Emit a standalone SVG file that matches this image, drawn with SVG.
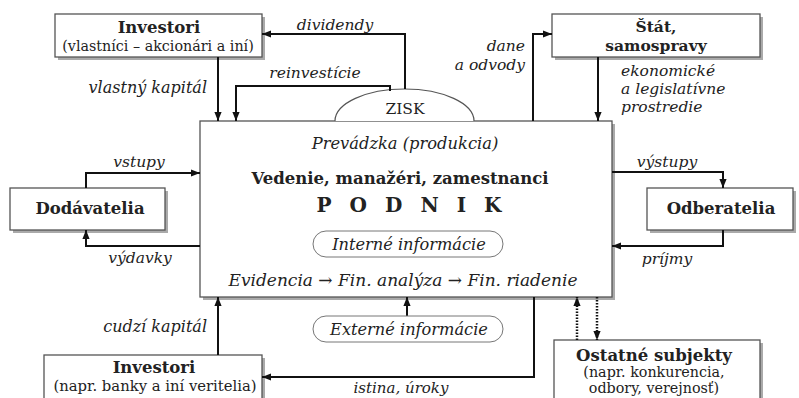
<svg xmlns="http://www.w3.org/2000/svg" width="799" height="398" viewBox="0 0 799 398">
<defs>
<marker id="ah" viewBox="0 0 10 10" refX="10" refY="5" markerWidth="9" markerHeight="9" markerUnits="userSpaceOnUse" orient="auto"><path d="M0,1 L10,5 L0,9 z" fill="#111"/></marker>
<style>
.box{fill:#fff;stroke:#555;stroke-width:1.3}
.sh{fill:#aaa}
.t{font-family:"DejaVu Serif","Liberation Serif",serif;fill:#222}
.b{font-weight:bold}
.i{font-style:italic}
.c{text-anchor:middle}
.r{text-anchor:end}
.ln{fill:none;stroke:#111;stroke-width:2}
.dt{fill:none;stroke:#111;stroke-width:2.5;stroke-dasharray:1.5,1.5}
.pill{fill:#fff;stroke:#777;stroke-width:1}
.lb{font-size:15.5px}
.ti{font-size:16.5px}
.su{font-size:14.3px}
</style>
</defs>
<rect width="799" height="398" fill="#fff"/>

<g id="podnik">
<rect class="sh" x="203" y="124" width="412" height="176"/>
<rect class="box" x="200" y="121" width="412" height="176"/>
<text class="t i c" x="405" y="149" font-size="16.3">Prevádzka (produkcia)</text>
<text class="t b c" x="400" y="184" font-size="16.5">Vedenie, manažéri, zamestnanci</text>
<text class="t b c" x="418" y="212" font-size="20" letter-spacing="18">PODNIK</text>
<rect class="pill" x="313" y="231" width="190" height="26" rx="13"/>
<text class="t i c" x="409" y="250" font-size="16.2">Interné informácie</text>
<text class="t i c" x="403" y="286" font-size="17">Evidencia → Fin. analýza → Fin. riadenie</text>
</g>

<g id="zisk">
<path d="M335,121 A69.5,32 0 0 1 474,121" fill="#fff" stroke="#555" stroke-width="1.2"/>
<text class="t c" x="405" y="114" font-size="15.5">ZISK</text>
</g>

<g id="investori-vlastnici">
<rect class="sh" x="58" y="17" width="207" height="43"/>
<rect class="box" x="55" y="14" width="207" height="43"/>
<text class="t b c ti" x="159" y="33">Investori</text>
<text class="t c su" x="158" y="51">(vlastníci – akcionári a iní)</text>
</g>

<g id="stat">
<rect class="sh" x="555" y="17" width="208" height="43"/>
<rect class="box" x="552" y="14" width="208" height="43"/>
<text class="t b c" x="656" y="32" font-size="15.5">Štát,</text>
<text class="t b c" x="656" y="51" font-size="15.5">samospravy</text>
</g>

<g id="dodavatelia">
<rect class="sh" x="13" y="191" width="155" height="42"/>
<rect class="box" x="10" y="188" width="155" height="42"/>
<text class="t b c ti" x="90" y="214">Dodávatelia</text>
</g>

<g id="odberatelia">
<rect class="sh" x="650" y="191" width="146" height="42"/>
<rect class="box" x="647" y="188" width="146" height="42"/>
<text class="t b c ti" x="721" y="214">Odberatelia</text>
</g>

<g id="investori-veritelia">
<rect class="sh" x="47" y="358" width="218" height="50"/>
<rect class="box" x="44" y="355" width="218" height="50"/>
<text class="t b c ti" x="154" y="373">Investori</text>
<text class="t c" x="155" y="391" font-size="14.8">(napr. banky a iní veritelia)</text>
</g>

<g id="ostatne">
<rect class="sh" x="557" y="343" width="206" height="60"/>
<rect class="box" x="554" y="340" width="206" height="60"/>
<text class="t b c ti" x="654" y="361">Ostatné subjekty</text>
<text class="t c su" x="654" y="377">(napr. konkurencia,</text>
<text class="t c su" x="654" y="393">odbory, verejnosť)</text>
</g>

<g id="connectors">
<path class="ln" d="M405,89 V34 H262" marker-end="url(#ah)"/>
<path class="ln" d="M390,91 V86 H236 V121" marker-end="url(#ah)"/>
<path class="ln" d="M218,57 V121" marker-end="url(#ah)"/>
<path class="ln" d="M533,121 V34 H552" marker-end="url(#ah)"/>
<path class="ln" d="M598,57 V121" marker-end="url(#ah)"/>
<path class="ln" d="M86,188 V173 H200" marker-end="url(#ah)"/>
<path class="ln" d="M200,246 H86 V230" marker-end="url(#ah)"/>
<path class="ln" d="M612,172 H723 V188" marker-end="url(#ah)"/>
<path class="ln" d="M723,230 V246 H612" marker-end="url(#ah)"/>
<path class="ln" d="M218,355 V297" marker-end="url(#ah)"/>
<path class="ln" d="M407,316 V297" marker-end="url(#ah)"/>
<path class="ln" d="M534,297 V377 H262" marker-end="url(#ah)"/>
<path class="dt" d="M577,340 V297" marker-end="url(#ah)"/>
<path class="dt" d="M597,297 V340" marker-end="url(#ah)"/>
<rect class="pill" x="313" y="316" width="190" height="26" rx="13"/>
<text class="t i c" x="409" y="335" font-size="16.2">Externé informácie</text>
<text class="t i c lb" x="335" y="30">dividendy</text>
<text class="t i c lb" x="315" y="78">reinvestície</text>
<text class="t i r" x="207" y="93" font-size="16">vlastný kapitál</text>
<text class="t i r lb" x="525" y="51">dane</text>
<text class="t i r lb" x="525" y="70">a odvody</text>
<text class="t i lb" x="621" y="76">ekonomické</text>
<text class="t i lb" x="621" y="94">a legislatívne</text>
<text class="t i lb" x="621" y="112">prostredie</text>
<text class="t i c lb" x="139" y="167">vstupy</text>
<text class="t i c lb" x="140" y="263">výdavky</text>
<text class="t i c lb" x="667" y="167">výstupy</text>
<text class="t i c lb" x="667" y="264">príjmy</text>
<text class="t i r" x="207" y="332" font-size="16">cudzí kapitál</text>
<text class="t i c" x="401" y="393" font-size="15">istina, úroky</text>
</g>
</svg>
